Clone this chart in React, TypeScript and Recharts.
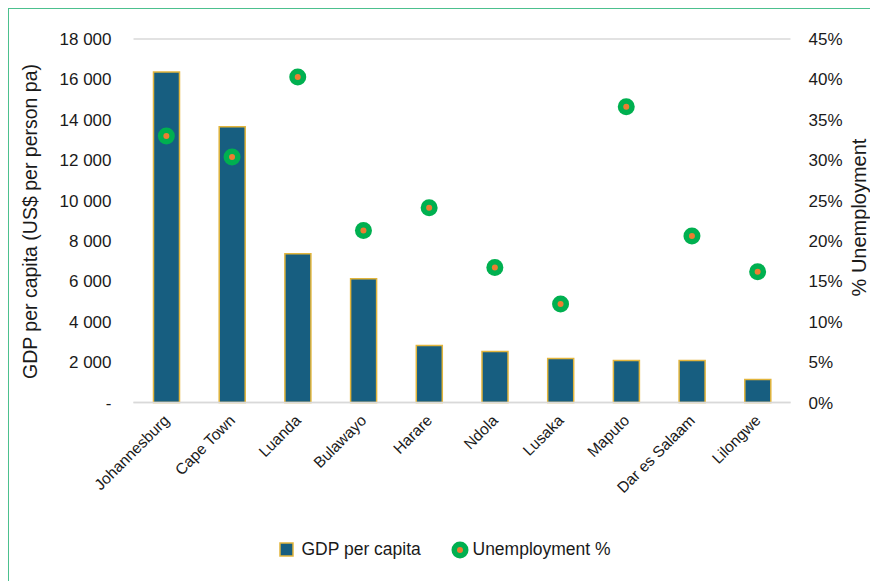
import React from "react";
import { ComposedChart, Bar, Scatter, XAxis, YAxis, CartesianGrid } from "recharts";

const cities = ["Johannesburg", "Cape Town", "Luanda", "Bulawayo", "Harare", "Ndola", "Lusaka", "Maputo", "Dar es Salaam", "Lilongwe"];
const gdpPerCapita = [16370, 13650, 7370, 6130, 2820, 2520, 2180, 2080, 2080, 1140];
const unemployment = [0.33, 0.304, 0.403, 0.213, 0.241, 0.167, 0.122, 0.366, 0.206, 0.162];
const gdpTicks = [0, 2000, 4000, 6000, 8000, 10000, 12000, 14000, 16000, 18000];
const pctTicks = [0, 0.05, 0.1, 0.15, 0.2, 0.25, 0.3, 0.35, 0.4, 0.45];

const data = cities.map((c, i) => ({ city: c, gdp: gdpPerCapita[i], unemp: unemployment[i] }));

const FONT = "'Liberation Sans', Arial, sans-serif";
const BAR_FILL = "#175e80";
const BAR_STROKE = "#e2b53c";
const DOT_GREEN = "#00b050";
const DOT_ORANGE = "#ed7d31";
const TEXT = "#1a1a1a";

const fmtGdp = (v: number) => (v === 0 ? "-" : v.toLocaleString("en-US").replace(/,/g, " "));
const fmtPct = (v: number) => `${Math.round(v * 100)}%`;

const Dot = (props: any) => {
  const { cx, cy } = props;
  if (cx == null || cy == null) return null;
  return (
    <g>
      <circle cx={cx} cy={cy} r={8.5} fill={DOT_GREEN} />
      <circle cx={cx} cy={cy} r={3} fill={DOT_ORANGE} />
    </g>
  );
};

const XTick = (props: any) => {
  const { x, y, payload } = props;
  const ax = x + 4;
  const ay = y + 11;
  return (
    <text
      x={ax}
      y={ay}
      textAnchor="end"
      transform={`rotate(-45, ${ax}, ${ay})`}
      fontSize={15.5}
      fontFamily={FONT}
      fill={TEXT}
    >
      {payload.value}
    </text>
  );
};

const LeftLabel = () => {
  const cx = 20.5;
  const cy = 212.5;
  return (
    <text x={cx} y={cy} transform={`rotate(-90, ${cx}, ${cy})`} textAnchor="middle" dominantBaseline="central" fontSize={19.5} fontFamily={FONT} fill={TEXT}>
      GDP per capita (US$ per person pa)
    </text>
  );
};

const RightLabel = () => {
  const cx = 850;
  const cy = 208.5;
  return (
    <text x={cx} y={cy} transform={`rotate(-90, ${cx}, ${cy})`} textAnchor="middle" dominantBaseline="central" fontSize={20} fontFamily={FONT} fill={TEXT}>
      % Unemployment
    </text>
  );
};

const LegendOverlay = () => (
  <div style={{ position: "absolute", left: 0, top: 0, width: "100%", height: "100%", pointerEvents: "none", fontFamily: FONT, fontSize: 17.5, color: TEXT }}>
    <svg width={16} height={16} style={{ position: "absolute", left: 270, top: 533 }}>
      <rect x={1} y={1} width={13} height={13} fill={BAR_FILL} stroke={BAR_STROKE} strokeWidth={1.5} />
    </svg>
    <span style={{ position: "absolute", left: 292.5, top: 530, lineHeight: "20px" }}>GDP per capita</span>
    <svg width={20} height={20} style={{ position: "absolute", left: 440.5, top: 531 }}>
      <circle cx={10} cy={10} r={8.5} fill={DOT_GREEN} />
      <circle cx={10} cy={10} r={3} fill={DOT_ORANGE} />
    </svg>
    <span style={{ position: "absolute", left: 463.5, top: 530, lineHeight: "20px" }}>Unemployment %</span>
  </div>
);

export default function App() {
  return (
    <div style={{ position: "relative", width: 868, height: 572, overflow: "hidden", borderTop: "1.5px solid #4cc08e", borderLeft: "1.5px solid #4cc08e", background: "#fff" }}>
      <style>{"html, body { overflow: hidden; }"}</style>
      <ComposedChart
        width={866}
        height={571}
        data={data}
        margin={{ top: 30, right: 0.5, bottom: 0, left: 0 }}
        barCategoryGap="30%"
      >
        <CartesianGrid vertical={false} stroke="#d9d9d9" strokeWidth={1.5} />
        <XAxis
          dataKey="city"
          interval={0}
          tick={<XTick />}
          tickLine={false}
          axisLine={{ stroke: "#d9d9d9", strokeWidth: 1.5 }}
          height={177.5}
        />
        <YAxis
          yAxisId="left"
          domain={[0, 18000]}
          ticks={gdpTicks}
          tickFormatter={fmtGdp}
          tickLine={false}
          axisLine={false}
          width={124.5}
          tickMargin={16}
          tick={{ fontSize: 17, fontFamily: FONT, fill: TEXT }}
          label={<LeftLabel />}
        />
        <YAxis
          yAxisId="right"
          orientation="right"
          domain={[0, 0.45]}
          ticks={pctTicks}
          tickFormatter={fmtPct}
          tickLine={false}
          axisLine={false}
          width={84}
          tickMargin={12}
          tick={{ fontSize: 17, fontFamily: FONT, fill: TEXT, textAnchor: "start" }}
          label={<RightLabel />}
        />
        <Bar
          yAxisId="left"
          dataKey="gdp"
          name="GDP per capita"
          fill={BAR_FILL}
          stroke={BAR_STROKE}
          strokeWidth={1.5}
          barSize={26}
          isAnimationActive={false}
        />
        <Scatter
          yAxisId="right"
          dataKey="unemp"
          name="Unemployment %"
          shape={<Dot />}
          isAnimationActive={false}
        />
      </ComposedChart>
      <LegendOverlay />
    </div>
  );
}
